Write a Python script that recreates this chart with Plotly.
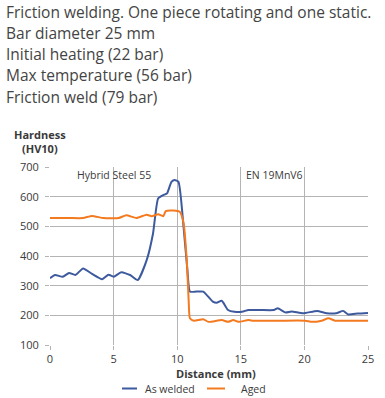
import plotly.graph_objects as go

# ---------------- data ----------------
welded_x = [0.0, 0.4, 1.0, 1.5, 2.0, 2.6, 3.3, 4.1, 4.6, 5.0, 5.6, 6.3, 6.9, 7.6, 8.1, 8.5, 8.9, 9.2,
            9.55, 9.8, 10.1, 10.5, 10.8, 11.0, 11.5, 12.05, 12.8, 13.1, 13.5, 14.0, 14.5, 15.1, 15.6,
            16.5, 17.6, 17.9, 18.5, 19.0, 19.9, 21.0, 21.75, 22.5, 23.05, 23.45, 24.2, 25.0]
welded_y = [325, 336, 330, 343, 336, 358, 340, 322, 337, 330, 345, 336, 319, 386, 476, 594, 605, 611,
            650, 656, 650, 498, 353, 280, 280, 280, 246, 242, 249, 218, 212, 212, 218,
            218, 218, 224, 210, 213, 207, 215, 207, 207, 215, 203, 206, 208]

aged_x = [0.0, 1.5, 2.6, 3.3, 4.2, 5.4, 6.0, 6.8, 7.6, 8.0, 8.5, 8.9, 9.1, 9.7, 10.2, 10.5, 10.75,
          10.9, 11.0, 11.3, 12.05, 12.45, 13.5, 14.0, 14.4, 14.8, 15.6, 16.0, 18.0, 20.05, 20.6,
          21.35, 21.9, 22.4, 23.5, 25.0]
aged_y = [528, 528, 528, 535, 528, 528, 537, 528, 539, 534, 541, 534, 551, 553, 549, 511, 386,
          252, 190, 182, 187, 178, 184, 178, 184, 178, 184, 182, 182, 182, 178,
          182, 190, 182, 182, 182]

x_ticks = [0, 5, 10, 15, 20, 25]
y_ticks = [100, 200, 300, 400, 500, 600, 700]

series_names = ["As welded", "Aged"]
header_lines = [
    "Friction welding. One piece rotating and one static.",
    "Bar diameter 25 mm",
    "Initial heating (22 bar)",
    "Max temperature (56 bar)",
    "Friction weld (79 bar)",
]
region_labels = ["Hybrid Steel 55", "EN 19MnV6"]

# ---------------- layout helpers ----------------
W, H = 385, 398
L, R, T, B = 50, 17, 167, 53
PW, PH = W - L - R, H - T - B


def px(x):
    return (x - L) / PW


def py(y):
    return (H - B - y) / PH


BLUE = "#3d5a9e"
ORANGE = "#f47a20"
TXT = "#3a3a3a"
FONT = "Open Sans"

fig = go.Figure()
fig.add_trace(go.Scatter(x=welded_x, y=welded_y, mode="lines", name=series_names[0],
                         line=dict(color=BLUE, width=2, shape="spline", smoothing=0.5)))
fig.add_trace(go.Scatter(x=aged_x, y=aged_y, mode="lines", name=series_names[1],
                         line=dict(color=ORANGE, width=2, shape="spline", smoothing=0.5)))

ann = []
for i, t in enumerate(header_lines):
    ann.append(dict(text=t, x=px(4), y=py(11.5 + i * 21.3), xref="paper", yref="paper",
                    xanchor="left", yanchor="middle", showarrow=False,
                    font=dict(family=FONT, size=15.5, color="#444444")))
ann.append(dict(text="<b>Hardness</b><br><b>(HV10)</b>", x=px(40), y=py(141), xref="paper", yref="paper",
                xanchor="center", yanchor="middle", showarrow=False, align="center",
                font=dict(family=FONT, size=11, color=TXT)))
ann.append(dict(text="<b>Distance (mm)</b>", x=px(216), y=py(373.5), xref="paper", yref="paper",
                xanchor="center", yanchor="middle", showarrow=False,
                font=dict(family=FONT, size=11, color=TXT)))
ann.append(dict(text=region_labels[0], x=px(114), y=py(175), xref="paper", yref="paper",
                xanchor="center", yanchor="middle", showarrow=False,
                font=dict(family=FONT, size=10.5, color=TXT)))
ann.append(dict(text=region_labels[1], x=px(274), y=py(175), xref="paper", yref="paper",
                xanchor="center", yanchor="middle", showarrow=False,
                font=dict(family=FONT, size=10.5, color=TXT)))

# legend (drawn as key lines + labels, like the original)
shapes = []
legend_items = [(series_names[0], BLUE, 122, 137, 143), (series_names[1], ORANGE, 207, 225, 239)]
for name, col, x0, x1, xt in legend_items:
    shapes.append(dict(type="line", xref="paper", yref="paper", x0=px(x0), x1=px(x1),
                       y0=py(388.5), y1=py(388.5), line=dict(color=col, width=2)))
    ann.append(dict(text=name, x=px(xt), y=py(388.5), xref="paper", yref="paper",
                    xanchor="left", yanchor="middle", showarrow=False,
                    font=dict(family=FONT, size=10.5, color=TXT)))

axis_common = dict(showgrid=True, gridcolor="#b4b4b4", gridwidth=1, zeroline=False,
                   showline=False, ticks="outside", ticklen=4, tickcolor="#b4b4b4",
                   tickfont=dict(family=FONT, size=11, color=TXT))

fig.update_layout(
    width=W, height=H,
    margin=dict(l=L, r=R, t=T, b=B, autoexpand=False),
    paper_bgcolor="white", plot_bgcolor="white",
    xaxis=dict(range=[0, 25], tickvals=x_ticks, ticklabelstandoff=0, **axis_common),
    yaxis=dict(range=[100, 700], tickvals=y_ticks, ticklabelstandoff=4, **axis_common),
    annotations=ann,
    shapes=shapes,
    showlegend=False,
)

fig.write_html("out.html", config={"displayModeBar": False},
               post_script="document.body.style.margin='0';")
